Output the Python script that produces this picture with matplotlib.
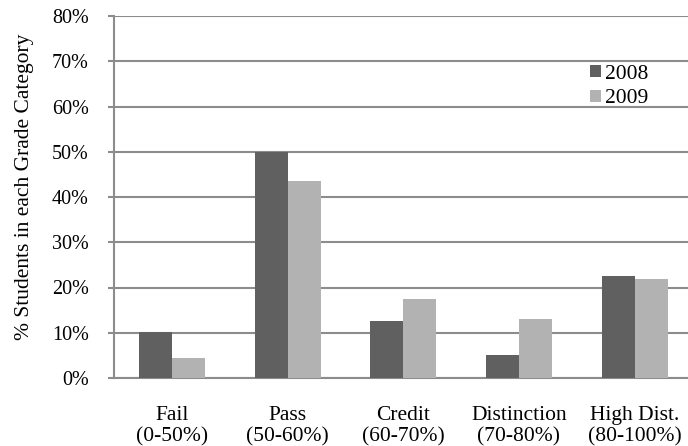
import numpy as np
import matplotlib.pyplot as plt

# Grade categories and share of students (%) per year
categories = ['Fail\n(0-50%)', 'Pass\n(50-60%)', 'Credit\n(60-70%)',
              'Distinction\n(70-80%)', 'High Dist.\n(80-100%)']
pct_2008 = [10.1, 50.0, 12.5, 5.1, 22.5]
pct_2009 = [4.4, 43.5, 17.4, 13.1, 21.8]
yticks = [0, 10, 20, 30, 40, 50, 60, 70, 80]

plt.rcParams['font.family'] = ['Liberation Serif', 'DejaVu Serif']

fig = plt.figure(figsize=(6.88, 4.46), dpi=100)
ax = fig.add_axes([114/688, 68/446, 578.5/688, 362/446])

x = np.arange(len(categories))
w = 0.285
ax.bar(x - w/2, pct_2008, w, color='#606060', label='2008', zorder=3)
ax.bar(x + w/2, pct_2009, w, color='#b2b2b2', label='2009', zorder=3)

ax.set_xlim(-0.5, 4.5)
ax.set_ylim(0, 80)
ax.set_yticks(yticks)
ax.set_yticklabels([f'{t}%' for t in yticks])
ax.set_xticks(x)
ax.set_xticklabels(categories, linespacing=1.15)
ax.tick_params(axis='y', labelsize=14.5, length=4, width=1.5, color='#8c8c8c', pad=14)
ax.tick_params(axis='x', labelsize=15.5, length=0, pad=20)
ax.grid(axis='y', color='#8c8c8c', linewidth=1.5, zorder=0)
for s in ['top', 'right']:
    ax.spines[s].set_visible(False)
for s in ['left', 'bottom']:
    ax.spines[s].set_color('#8c8c8c')
    ax.spines[s].set_linewidth(1.5)

fig.text(25/688, 1 - 187/446, '% Students in each Grade Category',
         rotation=90, ha='center', va='center', fontsize=15.5)

ax.legend(loc='upper left', bbox_to_anchor=(476/578.5, 1 - 49/362), frameon=False,
          fontsize=15.5, handlelength=0.5, handleheight=0.5, handletextpad=0.2,
          labelspacing=0.25, borderpad=0, borderaxespad=0)

fig.savefig('out.png', dpi=100)
